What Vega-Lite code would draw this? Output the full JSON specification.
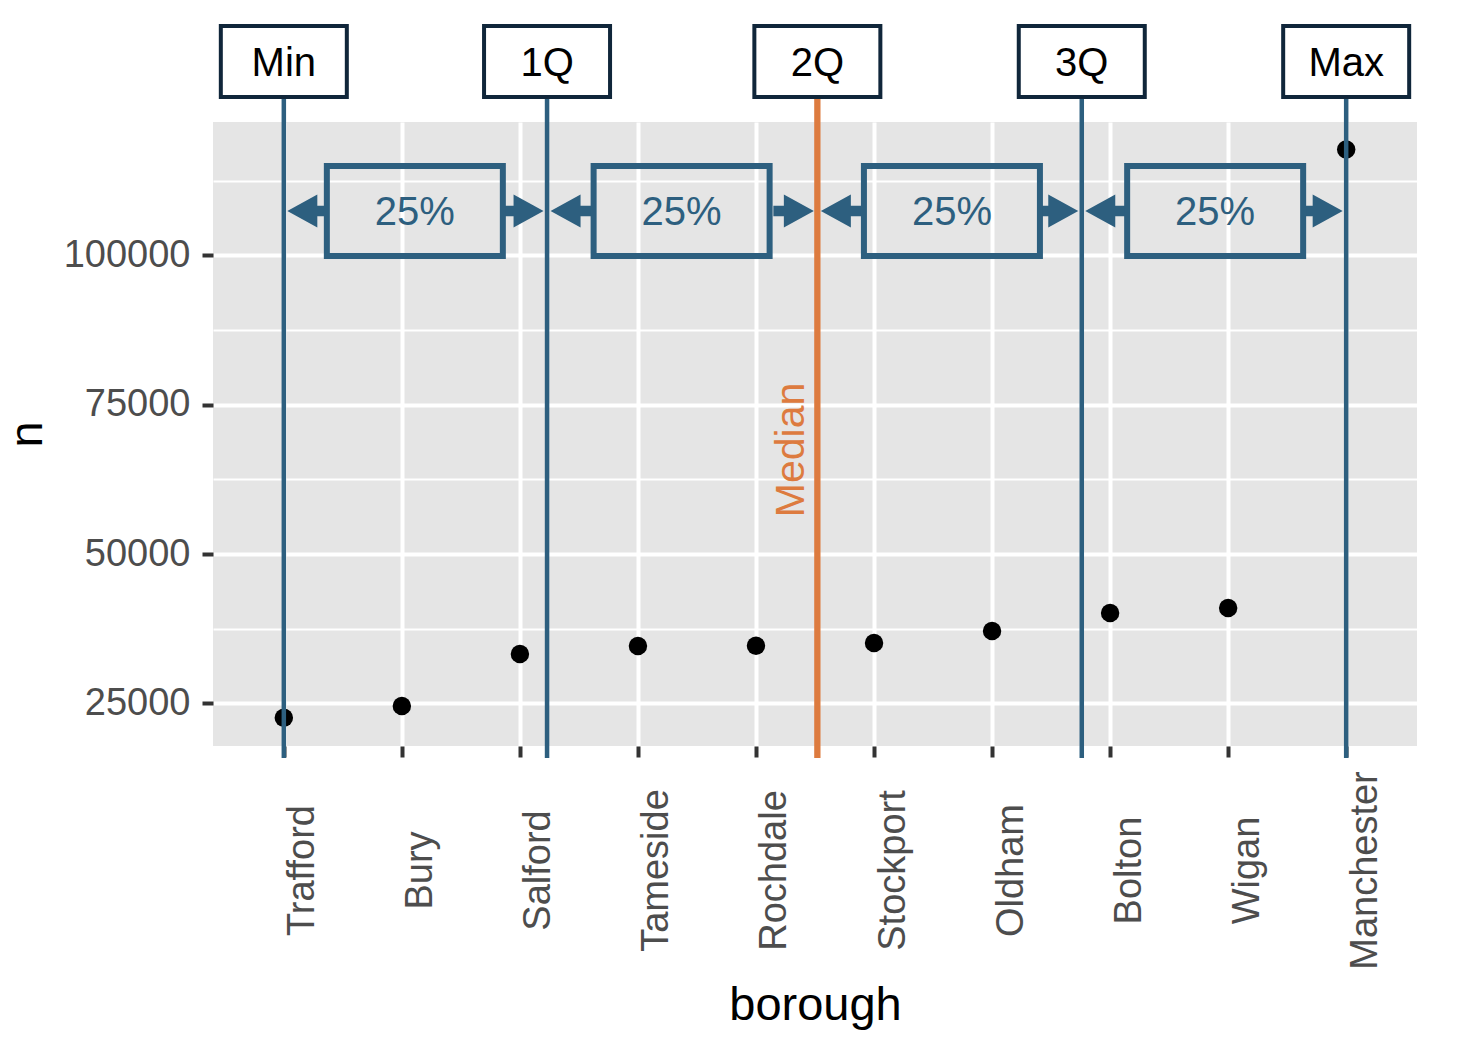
{
  "$schema": "https://vega.github.io/schema/vega-lite/v6.json",
  "width": 1204,
  "height": 624,
  "autosize": {"type": "none"},
  "padding": {"left": 213, "top": 122, "right": 63, "bottom": 314},
  "background": "white",
  "config": {
    "view": {"fill": "#e5e5e5", "stroke": null},
    "font": "Liberation Sans"
  },
  "datasets": {
    "boroughs": [
      {"borough": "Trafford", "n": 22620},
      {"borough": "Bury", "n": 24580},
      {"borough": "Salford", "n": 33280},
      {"borough": "Tameside", "n": 34620},
      {"borough": "Rochdale", "n": 34670},
      {"borough": "Stockport", "n": 35120},
      {"borough": "Oldham", "n": 37130},
      {"borough": "Bolton", "n": 40140},
      {"borough": "Wigan", "n": 40980},
      {"borough": "Manchester", "n": 117700}
    ],
    "quantiles": [
      {"q": "Min", "pos": 1},
      {"q": "1Q", "pos": 3.23},
      {"q": "2Q", "pos": 5.52},
      {"q": "3Q", "pos": 7.76},
      {"q": "Max", "pos": 10}
    ],
    "intervals": [
      {"from": 1, "to": 3.23, "mid": 2.11, "label": "25%"},
      {"from": 3.23, "to": 5.52, "mid": 4.37, "label": "25%"},
      {"from": 5.52, "to": 7.76, "mid": 6.66, "label": "25%"},
      {"from": 7.76, "to": 10, "mid": 8.89, "label": "25%"}
    ]
  },
  "layer": [
    {
      "data": {"name": "boroughs"},
      "mark": {"type": "circle", "size": 340, "color": "black", "opacity": 1},
      "encoding": {
        "x": {
          "field": "borough", "type": "nominal", "sort": null,
          "scale": {"type": "point", "padding": 0.6},
          "axis": {
            "title": "borough",
            "labelAngle": 270, "labelAlign": "center", "labelBaseline": "top",
            "labelPadding": 113, "labelFontSize": 38, "labelColor": "#4d4d4d",
            "labelLimit": 500, "labelOverlap": false,
            "ticks": true, "tickSize": 11, "tickWidth": 4, "tickColor": "#333333",
            "domain": false, "grid": true, "gridColor": "white", "gridWidth": 4,
            "titleFontSize": 47, "titleFontWeight": "normal", "titleColor": "black",
            "titleY": 273, "titleBaseline": "alphabetic"
          }
        },
        "y": {
          "field": "n", "type": "quantitative",
          "scale": {"domain": [17888, 122306], "nice": false, "zero": false},
          "axis": {
            "title": "n",
            "values": [25000, 37500, 50000, 62500, 75000, 87500, 100000, 112500],
            "format": "d",
            "labelExpr": "datum.value % 25000 === 0 ? datum.label : ''",
            "labelFontSize": 38, "labelColor": "#4d4d4d", "labelPadding": 12,
            "labelBaseline": "middle", "labelOverlap": false,
            "tickSize": 11, "tickWidth": 4, "tickColor": "#333333",
            "tickOpacity": {"condition": {"test": "datum.value % 25000 === 0", "value": 1}, "value": 0},
            "grid": true, "gridColor": "white",
            "gridWidth": {"condition": {"test": "datum.value % 25000 === 0", "value": 4}, "value": 2},
            "domain": false,
            "titleFontSize": 47, "titleFontWeight": "normal", "titleColor": "black",
            "titleX": -172, "titleY": 312, "titleAngle": 270,
            "titleBaseline": "alphabetic", "titleAlign": "center"
          }
        }
      }
    },
    {
      "data": {"name": "quantiles"},
      "mark": {"type": "rule"},
      "encoding": {
        "x": {"field": "pos", "type": "quantitative", "scale": {"domain": [0.4, 10.6], "nice": false, "zero": false}, "axis": null},
        "y": {"datum": 132430, "type": "quantitative"},
        "y2": {"datum": 15880},
        "color": {"condition": {"test": "datum.q === '2Q'", "value": "#dd7b3f"}, "value": "#2d5f7f"},
        "strokeWidth": {"condition": {"test": "datum.q === '2Q'", "value": 6.3}, "value": 4.5}
      }
    },
    {
      "data": {"name": "quantiles"},
      "mark": {"type": "point", "shape": "M-6.3,-3.55H6.3V3.55H-6.3Z", "size": 400, "filled": true, "fill": "white", "fillOpacity": 1, "stroke": "#10263a", "strokeWidth": 4, "opacity": 1},
      "encoding": {
        "x": {"field": "pos", "type": "quantitative", "scale": {"domain": [0.4, 10.6], "nice": false, "zero": false}, "axis": null},
        "y": {"datum": 132430, "type": "quantitative"}
      }
    },
    {
      "data": {"name": "quantiles"},
      "mark": {"type": "text", "fontSize": 40, "color": "black", "align": "center", "baseline": "alphabetic", "dy": 15},
      "encoding": {
        "x": {"field": "pos", "type": "quantitative", "scale": {"domain": [0.4, 10.6], "nice": false, "zero": false}, "axis": null},
        "y": {"datum": 132430, "type": "quantitative"},
        "text": {"field": "q"}
      }
    },
    {
      "data": {"name": "intervals"},
      "mark": {"type": "point", "shape": "M0.35,0L3.35,-1.65L3.35,-0.53L4.4,-0.53L4.4,0.53L3.35,0.53L3.35,1.65Z", "size": 400, "filled": true, "fill": "#2d5f7f", "strokeWidth": 0, "opacity": 1},
      "encoding": {
        "x": {"field": "from", "type": "quantitative", "scale": {"domain": [0.4, 10.6], "nice": false, "zero": false}, "axis": null},
        "y": {"datum": 107415, "type": "quantitative"}
      }
    },
    {
      "data": {"name": "intervals"},
      "mark": {"type": "point", "shape": "M-0.35,0L-3.35,-1.65L-3.35,-0.53L-4.4,-0.53L-4.4,0.53L-3.35,0.53L-3.35,1.65Z", "size": 400, "filled": true, "fill": "#2d5f7f", "strokeWidth": 0, "opacity": 1},
      "encoding": {
        "x": {"field": "to", "type": "quantitative", "scale": {"domain": [0.4, 10.6], "nice": false, "zero": false}, "axis": null},
        "y": {"datum": 107415, "type": "quantitative"}
      }
    },
    {
      "data": {"name": "intervals"},
      "mark": {"type": "point", "shape": "M-8.8,-4.5H8.8V4.5H-8.8Z", "size": 400, "filled": false, "stroke": "#2d5f7f", "strokeWidth": 6, "opacity": 1},
      "encoding": {
        "x": {"field": "mid", "type": "quantitative", "scale": {"domain": [0.4, 10.6], "nice": false, "zero": false}, "axis": null},
        "y": {"datum": 107415, "type": "quantitative"}
      }
    },
    {
      "data": {"name": "intervals"},
      "mark": {"type": "text", "fontSize": 40, "color": "#2d5f7f", "align": "center", "baseline": "alphabetic", "dy": 14.5},
      "encoding": {
        "x": {"field": "mid", "type": "quantitative", "scale": {"domain": [0.4, 10.6], "nice": false, "zero": false}, "axis": null},
        "y": {"datum": 107415, "type": "quantitative"},
        "text": {"field": "label"}
      }
    },
    {
      "data": {"name": "quantiles"},
      "transform": [{"filter": "datum.q === '2Q'"}],
      "mark": {"type": "text", "fontSize": 41, "color": "#dd7b3f", "align": "center", "baseline": "alphabetic", "angle": 270, "dy": -13},
      "encoding": {
        "x": {"field": "pos", "type": "quantitative", "scale": {"domain": [0.4, 10.6], "nice": false, "zero": false}, "axis": null},
        "y": {"datum": 67420, "type": "quantitative"},
        "text": {"value": "Median"}
      }
    }
  ],
  "resolve": {"scale": {"x": "independent"}, "axis": {"x": "independent"}}
}
